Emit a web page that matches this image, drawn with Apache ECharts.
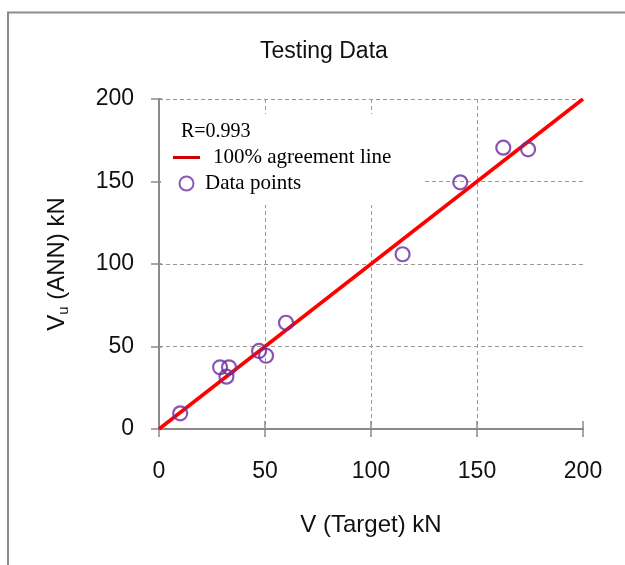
<!DOCTYPE html>
<html>
<head>
<meta charset="utf-8">
<script src="https://cdn.jsdelivr.net/npm/echarts@6/dist/echarts.min.js"></script>
<style>html,body{margin:0;padding:0;background:#fff}#c{width:625px;height:565px}</style>
</head>
<body>
<div id="c"></div>
<script>
// ---- data ----
const targetV = [10, 28.8, 33.0, 31.8, 47.2, 50.5, 59.9, 114.9, 142.1, 162.4, 174.1];
const annV    = [9.5, 37.4, 37.4, 31.7, 47.3, 44.4, 64.4, 105.9, 149.5, 170.5, 169.5];
const agreeX = [0, 200];
const agreeY = [0, 200];
const axisMin = 0, axisMax = 200, axisStep = 50;
const titleText = 'Testing Data';
const xName = 'V (Target) kN';
const rText = 'R=0.993';
const lineName = '100% agreement line';
const pointName = 'Data points';

const sans = '"Liberation Sans", Arial, sans-serif';
const serif = '"Liberation Serif", "Times New Roman", serif';
const axisGray = '#8a8a8a';
const gridGray = '#9a9a9a';

const chart = echarts.init(document.getElementById('c'));
const baseAxis = {
  type: 'value', min: axisMin, max: axisMax, interval: axisStep
};
chart.setOption({
  animation: false,
  backgroundColor: '#fff',
  title: {
    text: titleText, left: 255, top: 35,
    textStyle: { fontFamily: sans, fontSize: 23, fontWeight: 'normal', color: '#111' }
  },
  grid: { left: 159, right: 42, top: 99, bottom: 136 },
  graphic: [
    { type: 'polyline', z: 10, shape: { points: [[8, 565], [8, 12.5], [625, 12.5]] },
      style: { stroke: '#8c8c8c', lineWidth: 2, fill: null } },
    { type: 'rect', z: 1, shape: { x: 161, y: 114, width: 264, height: 91 },
      style: { fill: '#fff' } },
    { type: 'text', z: 10, left: 181, top: 122,
      style: { text: rText, font: '20px ' + serif, fill: '#000' } }
  ],
  legend: {
    orient: 'vertical', left: 173, top: 147, itemWidth: 27, itemHeight: 14, itemGap: 5,
    padding: 0, symbolKeepAspect: true,
    textStyle: { fontFamily: serif, fontSize: 21, color: '#000',
      rich: { p: { fontFamily: serif, fontSize: 21, padding: [0, 0, 0, 8] } } },
    formatter: function (n) { return n === lineName ? '{p|' + n + '}' : n; },
    data: [
      { name: lineName, icon: 'path://M0,0 H27 V3 H0 Z', itemStyle: { color: '#cc0000', borderWidth: 0 } },
      { name: pointName, icon: 'circle', itemStyle: { color: 'rgba(0,0,0,0)', borderColor: '#7030a0', borderWidth: 2 } }
    ]
  },
  xAxis: [
    Object.assign({}, baseAxis, {
      position: 'bottom',
      name: xName, nameLocation: 'middle', nameGap: 84,
      nameTextStyle: { fontFamily: sans, fontSize: 24, color: '#111' },
      axisLine: { show: true, lineStyle: { color: axisGray, width: 2 } },
      axisTick: { show: true, length: 8, lineStyle: { color: axisGray, width: 1.5 } },
      axisLabel: { margin: 31, fontFamily: sans, fontSize: 23, color: '#111' },
      splitLine: { show: true, lineStyle: { type: [4, 3], width: 1,
        color: ['rgba(0,0,0,0)', gridGray, gridGray, gridGray, 'rgba(0,0,0,0)'] } }
    }),
    Object.assign({}, baseAxis, {
      position: 'bottom',
      axisLine: { show: false },
      axisTick: { show: true, inside: true, length: 8, lineStyle: { color: axisGray, width: 1.5 } },
      axisLabel: { show: false },
      splitLine: { show: false }
    })
  ],
  yAxis: [
    Object.assign({}, baseAxis, {
      position: 'left',
      name: '{a|V}{sub|u}{a| (ANN) kN}', nameLocation: 'middle', nameGap: 88, nameRotate: 90,
      nameTextStyle: { fontFamily: sans, fontSize: 24, color: '#111',
        rich: {
          a: { fontFamily: sans, fontSize: 24, color: '#111', verticalAlign: 'middle' },
          sub: { fontFamily: sans, fontSize: 15, color: '#111', verticalAlign: 'middle', padding: [12, 0, 0, 0] }
        } },
      axisLine: { show: true, lineStyle: { color: axisGray, width: 2 } },
      axisTick: { show: true, length: 8, lineStyle: { color: axisGray, width: 1.5 } },
      axisLabel: { margin: 25, fontFamily: sans, fontSize: 23, color: '#111' },
      splitLine: { show: true, lineStyle: { type: [4, 3], width: 1,
        color: ['rgba(0,0,0,0)', gridGray, gridGray, gridGray, gridGray] } }
    }),
    Object.assign({}, baseAxis, {
      position: 'left',
      axisLine: { show: false },
      axisTick: { show: true, inside: true, length: 3, lineStyle: { color: axisGray, width: 1.5 } },
      axisLabel: { show: false },
      splitLine: { show: false }
    })
  ],
  series: [
    {
      name: lineName, type: 'line', xAxisIndex: 0, yAxisIndex: 0,
      data: agreeX.map((x, i) => [x, agreeY[i]]),
      symbol: 'none', lineStyle: { color: '#ff0000', width: 3.5 }, itemStyle: { color: '#cc0000' },
      z: 3
    },
    {
      name: pointName, type: 'scatter', xAxisIndex: 0, yAxisIndex: 0,
      data: targetV.map((x, i) => [x, annV[i]]),
      symbol: 'circle', symbolSize: 14,
      itemStyle: { color: 'rgba(0,0,0,0)', borderColor: '#6a2c9e', borderWidth: 2.2 },
      z: 4
    }
  ]
});
</script>
</body>
</html>
